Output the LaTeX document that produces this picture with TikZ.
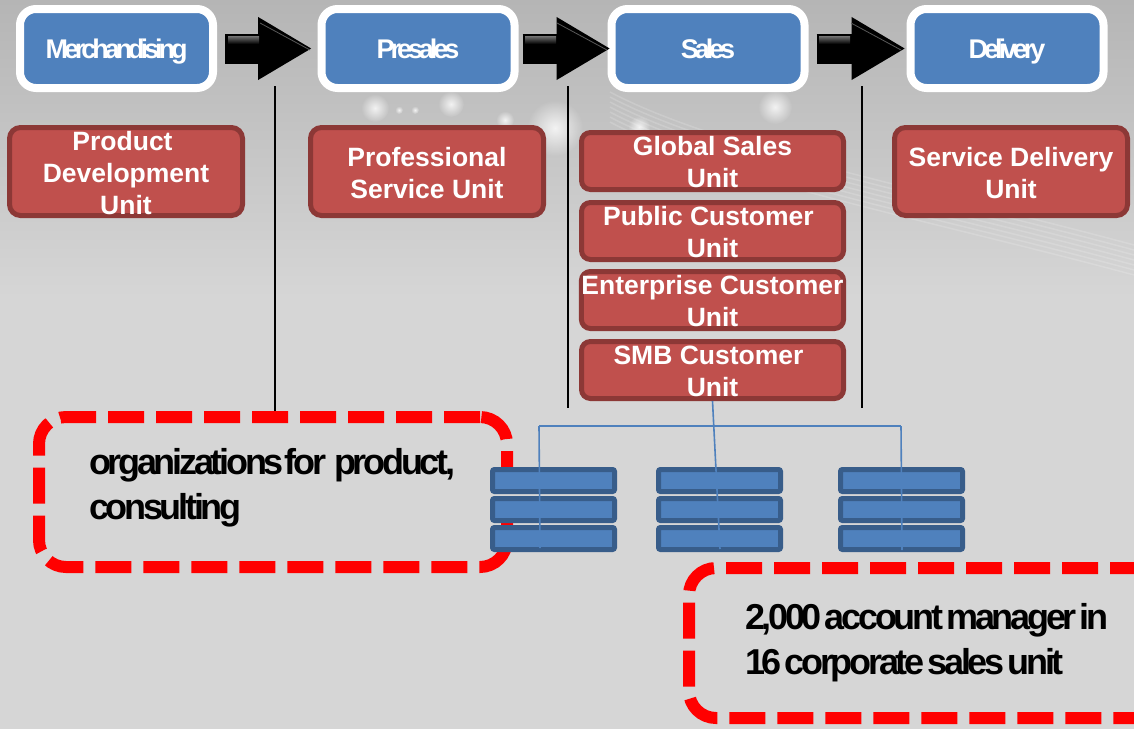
\documentclass[tikz,border=0pt]{standalone}
\usepackage{fontspec}
\setmainfont{Liberation Sans}
\newfontfamily\tightfont[LetterSpace=-15]{Liberation Sans}
\newfontfamily\notefont[LetterSpace=-9.1]{Liberation Sans}
\usetikzlibrary{arrows.meta,shadows,fadings}
\definecolor{stageblue}{HTML}{4F81BD}
\definecolor{rackedge}{HTML}{385D8A}
\definecolor{unitred}{HTML}{C0504D}
\definecolor{unitedge}{HTML}{8C3836}
\newcommand{\unitstrut}{\rule{0pt}{21.5pt}}
\newcommand{\salesstrut}{\rule{0pt}{21.5pt}}
\newcommand{\notegap}{\hspace{3pt}}
\tikzfading[name=glow, inner color=transparent!0, outer color=transparent!100]
\tikzset{
  stagebox/.style={draw=white, line width=8pt, fill=stageblue, rounded corners=16pt, minimum width=193pt, minimum height=79pt,
    text=white, font=\tightfont\bfseries\fontsize{27}{30}\selectfont, text height=24pt, text depth=5pt,
    drop shadow={shadow xshift=0pt, shadow yshift=-2pt, opacity=.35}},
  unitbase/.style={draw=unitedge, line width=5pt, fill=unitred, rounded corners=11pt,
    text=white, font=\bfseries\fontsize{26.5}{32}\selectfont, align=center, inner sep=0pt},
  unitbox/.style={unitbase, minimum width=233pt, minimum height=88pt},
  salesbox/.style={unitbase, minimum width=262pt, minimum height=57pt, rounded corners=9pt},
  rackbox/.style={draw=rackedge, line width=5pt, fill=stageblue, rounded corners=2pt, minimum width=122pt, minimum height=22pt, inner sep=0pt},
  notebox/.style={draw=red, line width=12pt, dash pattern=on 36pt off 12pt, rounded corners=27pt, align=left, anchor=north west,
    font=\notefont\bfseries\fontsize{36}{45}\selectfont},
  flowarrow/.style={line width=30pt, black, -{Triangle[length=54pt,width=59pt]}, yshift=-1.5pt},
  divider/.style={black, line width=1.5pt},
  busline/.style={stageblue, line width=1.6pt}
}
\begin{document}
\begin{tikzpicture}[x=1pt,y=-1pt]
\useasboundingbox (0,0) rectangle (1134,728);
\shade[top color=black!29, bottom color=black!16] (0,0) rectangle (1134,300);
\fill[black!16] (0,300) rectangle (1134,730);
% lights and swoosh behind the units
\foreach \gx/\gy/\gr in {375/108/14, 451/104/13, 399/110/4, 415/110/4, 505/120/9, 555/128/28, 775/107/17, 639/127/11}
  \fill[white, path fading=glow, opacity=.8] (\gx,\gy) circle[radius=\gr];
\foreach \sh in {0,5,...,30}
  \draw[white, opacity=.16, line width=1.5pt] (610,92+\sh) .. controls (720,150+\sh) and (930,190+\sh) .. (1134,245+\sh);

% dashed notes
\node[notebox, inner xsep=50pt, inner ysep=0pt, text width=368pt, minimum height=150pt] (noteorg) at (33,411) {\mbox{organizations\hspace{1pt}for\hspace{8pt}product,}\\consulting\rule[-17pt]{0pt}{1pt}};
\node[notebox, inner xsep=56pt, inner ysep=0pt, text width=420pt, minimum height=150pt] (noteacc) at (683,562) {2,000\notegap account\notegap manager\notegap in\\16\notegap corporate\notegap sales\notegap unit};

% stages
\node[stagebox] (merch) at (116.5,48.5) {Merchandising};
\node[stagebox] (presales) at (418,48.5) {Presales};
\node[stagebox] (sales) at (708,48.5) {Sales};
\node[stagebox] (delivery) at (1007,48.5) {Delivery};
\draw[flowarrow, shorten <=8pt, shorten >=5.5pt] (merch) -- (presales);
\draw[flowarrow, shorten <=4pt, shorten >=-3pt] (presales) -- (sales);
\draw[flowarrow, shorten <=8pt, shorten >=1pt] (sales) -- (delivery);
% bevel on the arrows
\foreach \ax in {226,523,817} {
  \shade[top color=black!55, bottom color=black] (\ax+2,36) rectangle (\ax+33,44);
  \draw[black!65, line width=.8pt] (\ax+34,23) -- (\ax+84,50);
}

% dividers
\coordinate (diva) at (275,86);
\coordinate (divatail) at (275,411);
\coordinate (divb) at (568,86);
\coordinate (divbtail) at (568,408);
\coordinate (divc) at (862,86);
\coordinate (divctail) at (862,408);
\draw[divider] (diva) -- (divatail);
\draw[divider] (divb) -- (divbtail);
\draw[divider] (divc) -- (divctail);

% units
\node[unitbox] (product) at (126,171.5) {\unitstrut Product\hspace*{7pt}\\Development\\Unit};
\node[unitbox] (service) at (427,171.5) {\unitstrut Professional\\Service Unit};
\node[unitbox] (servdel) at (1011,171.5) {\unitstrut Service Delivery\\Unit};
\node[salesbox] (global) at (712.5,161) {\salesstrut Global Sales\\Unit};
\node[salesbox] (public) at (712.5,231) {\salesstrut Public Customer\hspace*{8pt}\\Unit};
\node[salesbox] (enterprise) at (712.5,300) {\salesstrut Enterprise Customer\\Unit};
\node[salesbox] (smb) at (712.5,370) {\salesstrut SMB Customer\hspace*{8pt}\\Unit};

% racks
\foreach \rk/\rx in {a/553.5, b/719.5, c/901.5} {
  \node[rackbox] (rack\rk1) at (\rx,480.5) {};
  \node[rackbox] (rack\rk2) at (\rx,509.5) {};
  \node[rackbox] (rack\rk3) at (\rx,538.5) {};
}
\coordinate (busl) at (539,426);
\coordinate (busr) at (901,426);
\coordinate (buslend) at (540,548);
\coordinate (busmend) at (720,549);
\coordinate (busrend) at (902,550);
\draw[busline] (busl) -- (busr);
\draw[busline] (busl) -- (buslend);
\draw[busline] (smb.south) -- (busmend);
\draw[busline] (busr) -- (busrend);
\end{tikzpicture}
\end{document}
